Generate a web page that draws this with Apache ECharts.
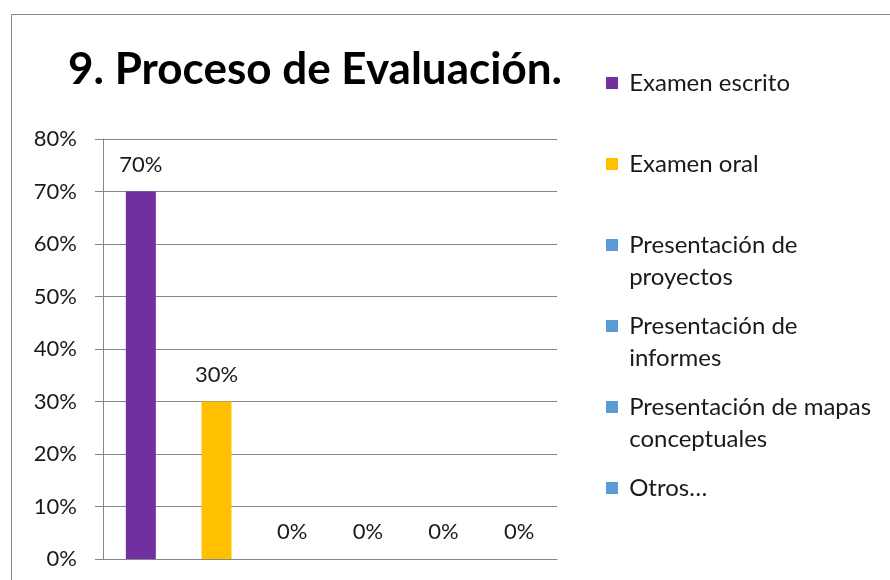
<!DOCTYPE html>
<html>
<head>
<meta charset="utf-8">
<script src="https://cdn.jsdelivr.net/npm/echarts@6/dist/echarts.min.js"></script>
<style>
  html, body { margin: 0; padding: 0; background: #fff; }
  #main { width: 890px; height: 580px; }
</style>
</head>
<body>
<div id="main"></div>
<script>
// datos del grafico
var titleText = '9. Proceso de Evaluación.';
var seriesNames = ['Examen escrito', 'Examen oral', 'Presentación de proyectos',
    'Presentación de informes', 'Presentación de mapas conceptuales', 'Otros…'];
var legendLabels = ['Examen escrito', 'Examen oral', 'Presentación de\nproyectos',
    'Presentación de\ninformes', 'Presentación de mapas\nconceptuales', 'Otros…'];
var percentValues = [70, 30, 0, 0, 0, 0];
var barColors = ['#7030A0', '#FFC000', '#5B9BD5', '#5B9BD5', '#5B9BD5', '#5B9BD5'];
var yTicks = [0, 10, 20, 30, 40, 50, 60, 70, 80];

var fontName = 'Lato';
var textColor = '#1a1a1a';
var lineColor = '#868686';

var myChart = echarts.init(document.getElementById('main'));

/* una serie por categoria, apiladas para que cada barra quede centrada */
var series = [];
for (var i = 0; i < seriesNames.length; i++) {
    var d = [];
    for (var j = 0; j < seriesNames.length; j++) {
        d.push(j === i ? percentValues[i] : '-');
    }
    series.push({
        name: seriesNames[i],
        type: 'bar',
        stack: 'all',
        barWidth: 30,
        itemStyle: { color: barColors[i] },
        label: {
            show: true,
            position: 'top',
            distance: 16,
            formatter: '{c}%',
            fontFamily: fontName,
            fontSize: 22,
            color: textColor
        },
        data: d
    });
}

/* leyenda: un componente por elemento; el cuadrado va con la primera linea */
var legends = [];
var lineH = 32;
for (var k = 0; k < seriesNames.length; k++) {
    var lines = legendLabels[k].split('\n');
    var nLines = lines.length;
    var shown = [];
    for (var m = 0; m < nLines - 1; m++) shown.push('');   // lineas vacias arriba
    for (var m2 = 0; m2 < nLines; m2++) shown.push(' ' + lines[m2]);
    var centerY = 83 + k * 81;
    legends.push({
        show: true,
        orient: 'vertical',
        left: 606,
        top: centerY - lineH * (2 * nLines - 1) / 2,
        padding: 0,
        itemWidth: 12,
        itemHeight: 12,
        itemGap: 0,
        selectedMode: false,
        icon: 'rect',
        data: [seriesNames[k]],
        formatter: (function (txt) {
            return function () { return txt; };
        })(shown.join('\n')),
        textStyle: {
            fontFamily: fontName,
            fontSize: 24,
            color: textColor,
            lineHeight: lineH
        }
    });
}

myChart.setOption({
    animation: false,
    backgroundColor: '#fff',
    title: {
        text: titleText,
        left: 68,
        top: 43,
        padding: 0,
        textStyle: {
            fontFamily: fontName,
            fontWeight: 'bold',
            fontSize: 44,
            lineHeight: 54,
            color: '#000'
        }
    },
    legend: legends,
    graphic: [{
        type: 'rect',
        silent: true,
        shape: { x: 11.5, y: 14.5, width: 900, height: 600 },
        style: { fill: null, stroke: lineColor, lineWidth: 1 }
    }],
    grid: {
        left: 103,
        right: 333,
        top: 139,
        bottom: 21,
        containLabel: false
    },
    xAxis: {
        type: 'category',
        data: seriesNames,
        axisLine: { show: true, lineStyle: { color: lineColor, width: 1 } },
        axisTick: { show: false },
        axisLabel: { show: false },
        splitLine: { show: false }
    },
    yAxis: {
        type: 'value',
        min: yTicks[0],
        max: yTicks[yTicks.length - 1],
        interval: 10,
        axisLine: { show: true, lineStyle: { color: lineColor, width: 1 } },
        axisTick: { show: true, length: 8, lineStyle: { color: lineColor } },
        splitLine: { show: true, lineStyle: { color: lineColor, width: 1 } },
        axisLabel: {
            formatter: '{value}%',
            margin: 26,
            fontFamily: fontName,
            fontSize: 22,
            color: textColor
        }
    },
    series: series
});
</script>
</body>
</html>
